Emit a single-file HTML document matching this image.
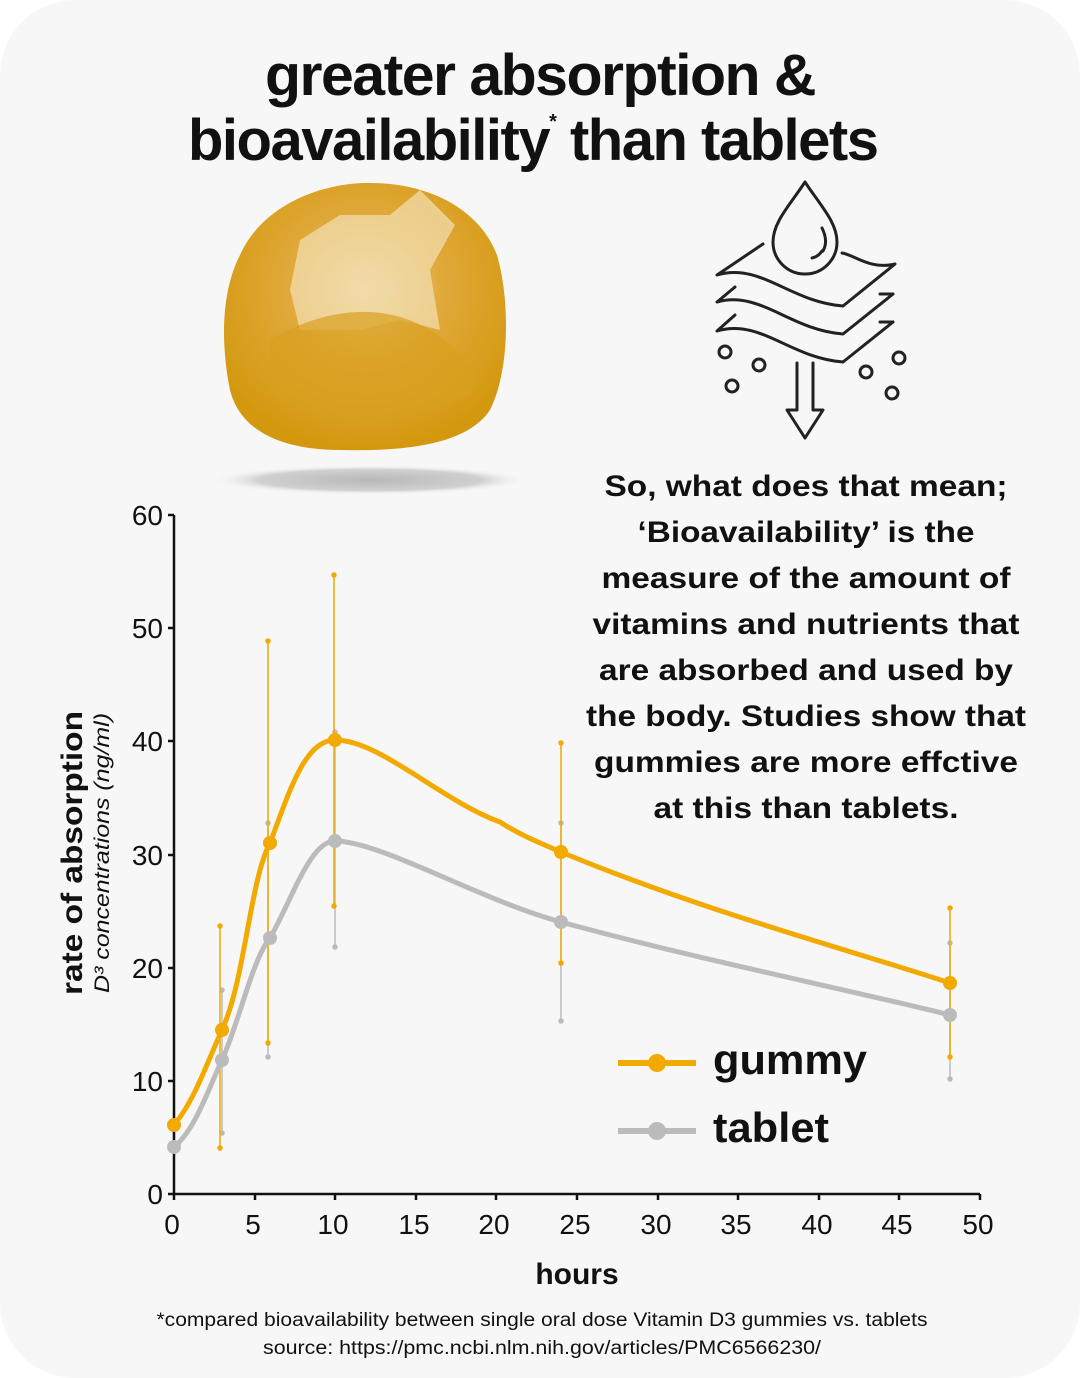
<!DOCTYPE html>
<html><head><meta charset="utf-8"><style>
html,body{margin:0;padding:0;background:#fff;}
svg{display:block;font-family:"Liberation Sans",Arial,sans-serif;}
</style></head><body>
<svg width="1080" height="1378" viewBox="0 0 1080 1378" xmlns="http://www.w3.org/2000/svg">
<defs>
<radialGradient id="gm" cx="0.5" cy="0.4" r="0.6">
<stop offset="0" stop-color="#f0d8a0"/><stop offset="0.45" stop-color="#e0a93a"/><stop offset="1" stop-color="#d4980f"/>
</radialGradient>
<radialGradient id="sh" cx="0.5" cy="0.5" r="0.5">
<stop offset="0" stop-color="#b8b8b8"/><stop offset="0.7" stop-color="#d0d0d0"/><stop offset="1" stop-color="#f8f7f7" stop-opacity="0"/>
</radialGradient>
</defs>
<rect x="0" y="0" width="1080" height="1378" rx="75" fill="#f8f7f7"/>
<g font-weight="bold" fill="#111" text-anchor="middle" font-size="58" letter-spacing="-1.5">
<text x="540" y="95" textLength="550" lengthAdjust="spacingAndGlyphs">greater absorption &amp;</text>
<text x="188" y="160" text-anchor="start">bioavailability<tspan font-size="20" dy="-32">*</tspan><tspan dy="32"> than tablets</tspan></text>
</g>
<!-- gummy -->
<ellipse cx="370" cy="480" rx="160" ry="15" fill="url(#sh)"/>
<path d="M240,255 C265,200 330,182 370,183 C430,183 480,210 497,255 C510,300 510,370 490,410 C470,440 420,452 340,450 C280,450 240,430 230,390 C220,340 222,290 240,255Z" fill="url(#gm)"/>
<path d="M300,240 L340,215 L390,215 L420,190 L455,225 L430,270 L440,330 L400,320 L360,330 L300,330 L290,290Z" fill="#f2dcac" opacity="0.75"/>
<path d="M270,340 C320,310 380,300 430,330 C460,350 480,370 470,395 C420,420 320,420 270,390Z" fill="#d8a020" opacity="0.7"/>
<!-- icon -->
<g fill="none" stroke="#222" stroke-width="3" stroke-linecap="round" stroke-linejoin="round">
<path d="M805,182 C790,205 773,222 773,242 A32,32 0 0 0 837,242 C837,222 820,205 805,182Z"/>
<path d="M822,228 C826,236 827,244 823,251 M812,258 C817,257 820,254 822,251"/>
<path d="M763,244 L717,275 C760,262 790,302 843,306 L895,264 C870,270 855,255 842,253"/>
<path d="M735,287 L717,302 C760,290 790,330 843,334 L893,294"/>
<path d="M735,315 L717,331 C760,318 790,358 843,362 L893,322"/>
<path d="M880,294 L893,294 M880,322 L893,322"/>
<path d="M797,363 L797,410 L787,410 L805,438 L823,410 L813,410 L813,363"/>
<circle cx="725" cy="352" r="6"/><circle cx="759" cy="365" r="6"/><circle cx="732" cy="386" r="6"/>
<circle cx="866" cy="372" r="6"/><circle cx="899" cy="358" r="6"/><circle cx="892" cy="393" r="6"/>
</g>
<!-- paragraph -->
<g font-weight="bold" font-size="30" fill="#111" text-anchor="middle" lengthAdjust="spacingAndGlyphs">
<text x="806" y="496" textLength="403" lengthAdjust="spacingAndGlyphs">So, what does that mean;</text>
<text x="806" y="542" textLength="337" lengthAdjust="spacingAndGlyphs">‘Bioavailability’ is the</text>
<text x="806" y="588" textLength="409" lengthAdjust="spacingAndGlyphs">measure of the amount of</text>
<text x="806" y="634" textLength="427" lengthAdjust="spacingAndGlyphs">vitamins and nutrients that</text>
<text x="806" y="680" textLength="414" lengthAdjust="spacingAndGlyphs">are absorbed and used by</text>
<text x="806" y="726" textLength="440" lengthAdjust="spacingAndGlyphs">the body. Studies show that</text>
<text x="806" y="772" textLength="424" lengthAdjust="spacingAndGlyphs">gummies are more effctive</text>
<text x="806" y="818" textLength="305" lengthAdjust="spacingAndGlyphs">at this than tablets.</text>
</g>
<!-- axes -->
<g stroke="#111" stroke-width="2.5" fill="none">
<path d="M174,515 L174,1194 L980,1194"/>
<path d="M174,515 L168,515 M174,628 L168,628 M174,741 L168,741 M174,855 L168,855 M174,968 L168,968 M174,1081 L168,1081 M174,1194 L168,1194"/>
<path d="M174,1194 v6 M255,1194 v6 M335,1194 v6 M416,1194 v6 M496,1194 v6 M577,1194 v6 M658,1194 v6 M738,1194 v6 M819,1194 v6 M899,1194 v6 M980,1194 v6"/>
</g>
<g font-size="28" fill="#111" text-anchor="end">
<text x="163" y="525">60</text><text x="163" y="638">50</text><text x="163" y="751">40</text><text x="163" y="865">30</text><text x="163" y="978">20</text><text x="163" y="1091">10</text><text x="163" y="1204">0</text>
</g>
<g font-size="28" fill="#111" text-anchor="middle">
<text x="172" y="1234">0</text><text x="253" y="1234">5</text><text x="333" y="1234">10</text><text x="414" y="1234">15</text><text x="494" y="1234">20</text><text x="575" y="1234">25</text><text x="656" y="1234">30</text><text x="736" y="1234">35</text><text x="817" y="1234">40</text><text x="897" y="1234">45</text><text x="978" y="1234">50</text>
</g>
<text x="577" y="1284" font-size="30" font-weight="bold" text-anchor="middle" fill="#111">hours</text>
<text transform="translate(82,853) rotate(-90)" font-size="30" font-weight="bold" text-anchor="middle" fill="#111" textLength="284" lengthAdjust="spacingAndGlyphs">rate of absorption</text>
<text transform="translate(109,853) rotate(-90)" font-size="21" font-style="italic" text-anchor="middle" fill="#111" textLength="280" lengthAdjust="spacingAndGlyphs">D³ concentrations (ng/ml)</text>
<!-- error bars -->
<g stroke="#bbb" stroke-width="1.5" fill="#bbb">
<path d="M222,990 V1133 M268,823 V1057 M335,732 V947 M561,823 V1021 M950,943 V1079"/>
<circle cx="222" cy="990" r="2"/><circle cx="222" cy="1133" r="2"/><circle cx="268" cy="823" r="2"/><circle cx="268" cy="1057" r="2"/><circle cx="335" cy="732" r="2"/><circle cx="335" cy="947" r="2"/><circle cx="561" cy="823" r="2"/><circle cx="561" cy="1021" r="2"/><circle cx="950" cy="943" r="2"/><circle cx="950" cy="1079" r="2"/>
</g>
<g stroke="#f2a900" stroke-width="1.5" fill="#f2a900">
<path d="M220,926 V1148 M268,641 V1043 M334,575 V906 M561,743 V963 M950,908 V1057"/>
<circle cx="220" cy="926" r="2"/><circle cx="220" cy="1148" r="2"/><circle cx="268" cy="641" r="2"/><circle cx="268" cy="1043" r="2"/><circle cx="334" cy="575" r="2"/><circle cx="334" cy="906" r="2"/><circle cx="561" cy="743" r="2"/><circle cx="561" cy="963" r="2"/><circle cx="950" cy="908" r="2"/><circle cx="950" cy="1057" r="2"/>
</g>
<!-- series -->
<path d="M174,1147 C195,1130 208,1090 222,1060 C240,1020 252,960 270,938 C292,900 310,841 335,841 C380,841 480,900 561,922 C700,960 850,990 950,1015" fill="none" stroke="#bbb" stroke-width="5"/>
<path d="M174,1125 C195,1100 208,1060 222,1030 C245,980 250,880 270,843 C290,790 305,740 335,740 C380,740 440,800 500,822 C520,835 540,843 561,852 C700,910 850,950 950,983" fill="none" stroke="#f2a900" stroke-width="5"/>
<g fill="#bbb"><circle cx="174" cy="1147" r="7"/><circle cx="222" cy="1060" r="7"/><circle cx="270" cy="938" r="7"/><circle cx="335" cy="841" r="7"/><circle cx="561" cy="922" r="7"/><circle cx="950" cy="1015" r="7"/></g>
<g fill="#f2a900"><circle cx="174" cy="1125" r="7"/><circle cx="222" cy="1030" r="7"/><circle cx="270" cy="843" r="7"/><circle cx="335" cy="740" r="7"/><circle cx="561" cy="852" r="7"/><circle cx="950" cy="983" r="7"/></g>
<!-- legend -->
<path d="M618,1063 H696" stroke="#f2a900" stroke-width="6"/><circle cx="657" cy="1063" r="9" fill="#f2a900"/>
<path d="M618,1131 H696" stroke="#bbb" stroke-width="6"/><circle cx="657" cy="1131" r="9" fill="#bbb"/>
<text x="713" y="1074" font-size="42" font-weight="bold" fill="#111" textLength="154" lengthAdjust="spacingAndGlyphs">gummy</text>
<text x="713" y="1142" font-size="42" font-weight="bold" fill="#111" textLength="116" lengthAdjust="spacingAndGlyphs">tablet</text>
<g font-size="19" fill="#111" text-anchor="middle">
<text x="542" y="1326" textLength="771" lengthAdjust="spacingAndGlyphs">*compared bioavailability between single oral dose Vitamin D3 gummies vs. tablets</text>
<text x="542" y="1354" textLength="558" lengthAdjust="spacingAndGlyphs">source: https://pmc.ncbi.nlm.nih.gov/articles/PMC6566230/</text>
</g>
</svg>
</body></html>
